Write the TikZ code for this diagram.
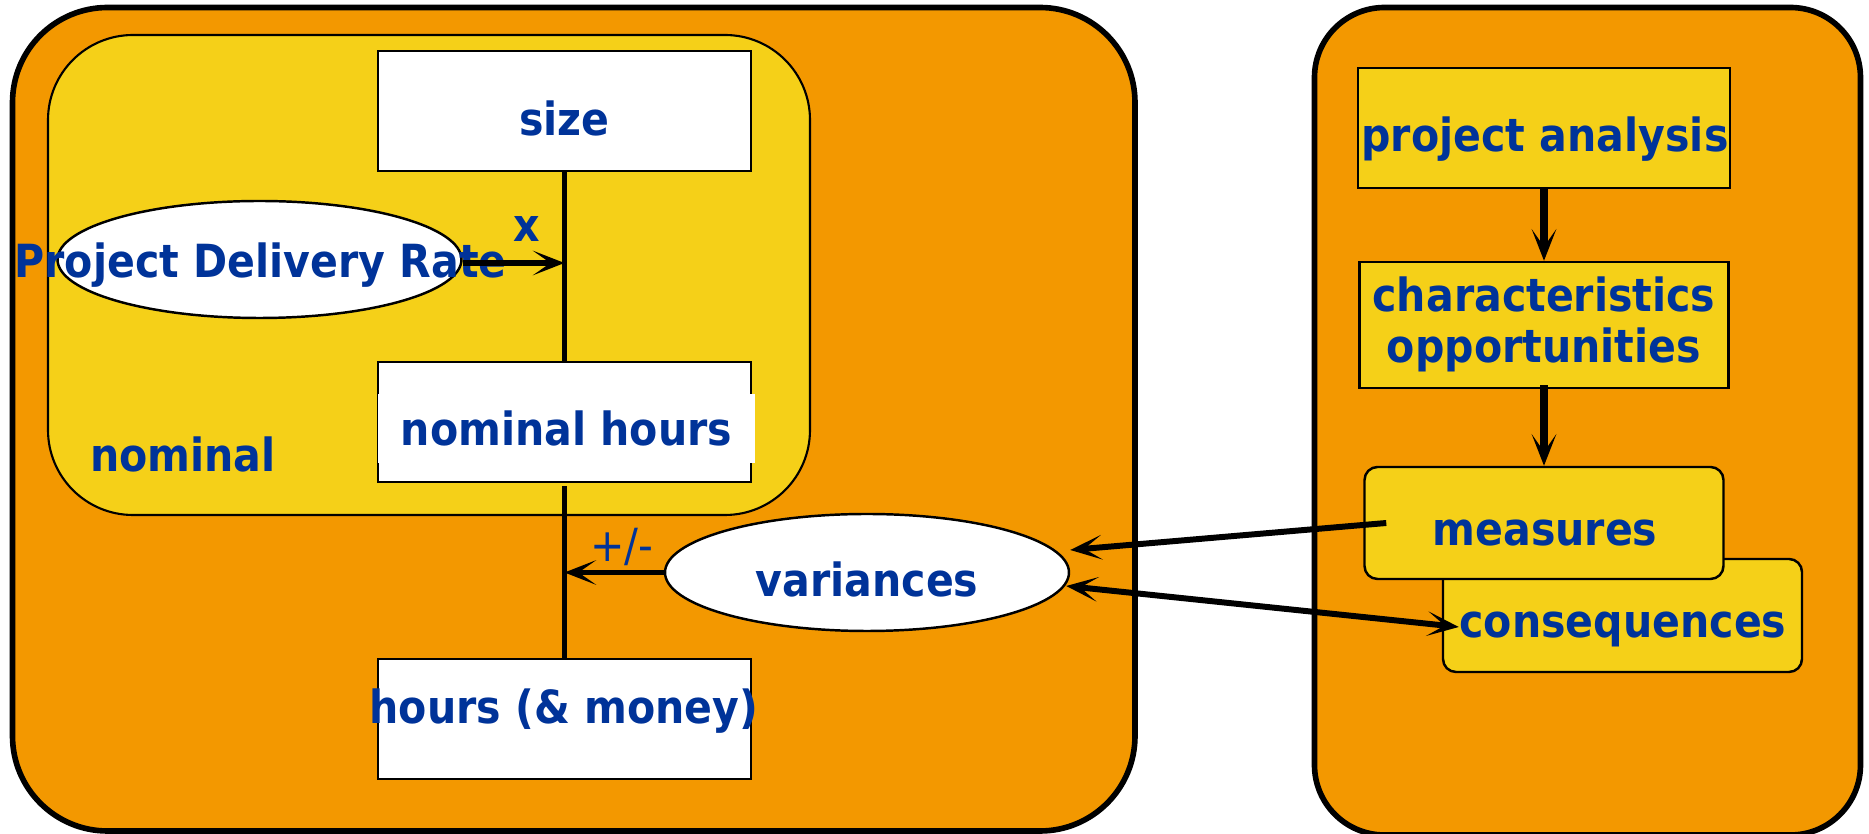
\documentclass[tikz,border=0pt]{standalone}
\usepackage{fontspec}
\newfontfamily\diafont[FakeStretch=0.9]{DejaVu Sans}
\usetikzlibrary{arrows.meta,shapes.geometric}

\definecolor{frameorange}{RGB}{243,152,0}
\definecolor{boxyellow}{RGB}{245,208,24}
\definecolor{txtblue}{RGB}{0,51,153}

\tikzset{
  txt/.style={font=\diafont\bfseries\fontsize{13pt}{14.5pt}\selectfont, text=txtblue, inner sep=0pt},
  txtreg/.style={font=\diafont\fontsize{13pt}{14.5pt}\selectfont, text=txtblue, inner sep=0pt},
  wbox/.style={draw, line width=0.7pt, fill=white, minimum width=3.73cm, minimum height=1.2cm, inner sep=0pt},
  ybox/.style={draw, line width=0.7pt, fill=boxyellow, inner sep=0pt},
  oval/.style={ellipse, draw, line width=0.7pt, fill=white, minimum width=4.04cm, minimum height=1.17cm, inner sep=0pt},
  link/.style={line width=1.7pt},
  flow/.style={line width=2pt}
}

\begin{document}
\begin{tikzpicture}[>={Stealth[length=9pt,width=7pt,inset=5pt]}]
\useasboundingbox (0,0) rectangle (18.69,8.34);

% frames
\draw[fill=frameorange, line width=1.6pt, rounded corners=0.95cm] (0.125,0.03) rectangle (11.35,8.265);
\draw[fill=frameorange, line width=1.6pt, rounded corners=0.7cm] (13.145,-0.01) rectangle (18.605,8.265);
\draw[fill=boxyellow, line width=0.6pt, rounded corners=0.85cm] (0.48,3.19) rectangle (8.10,7.99);

% boxes
\node[wbox] (size) at (5.645,7.23) {};
\node[wbox] (nomrect) at (5.645,4.12) {};
\node[wbox] (hours) at (5.645,1.15) {};
\node[oval] (pdr) at (2.595,5.745) {};
\node[oval] (var) at (8.67,2.615) {};
\node[ybox, minimum width=3.72cm, minimum height=1.2cm] (pa) at (15.44,7.06) {};
\node[ybox, minimum width=3.69cm, minimum height=1.26cm] (char) at (15.44,5.09) {};
\node[ybox, rounded corners=0.13cm, minimum width=3.59cm, minimum height=1.13cm] (cons) at (16.225,2.185) {};
\node[ybox, rounded corners=0.13cm, minimum width=3.59cm, minimum height=1.12cm] (meas) at (15.44,3.11) {};

% labels
\node[txt, anchor=base] (sizet) at (5.645,6.98) {size};
\node[txt, anchor=base] (pdrt) at (2.605,5.56) {Project Delivery Rate};
\node[txt, anchor=base] (xt) at (5.27,5.92) {x};
\node[txt, fill=white, minimum width=3.77cm, minimum height=0.69cm] (nomt) at (5.665,4.055) {nominal hours};
\node[txt, anchor=base] (nomlab) at (1.83,3.62) {nominal};
\node[txtreg, anchor=base] (pm) at (6.22,2.72) {+/-};
\node[txt, anchor=base] (vart) at (8.67,2.37) {variances};
\node[txt, anchor=base] (hourst) at (5.64,1.10) {hours (\& money)};
\node[txt, anchor=base] (pat) at (15.45,6.82) {project analysis};
\node[txt, align=center] (chart) at (15.44,5.10) {characteristics\\opportunities};
\node[txt, anchor=base] (meast) at (15.45,2.88) {measures};
\node[txt, anchor=base] (const) at (16.23,1.96) {consequences};

% connectors
\draw[link] (size.south) -- (nomrect.north);
\draw[link] ([yshift=-0.03cm]nomrect.south) -- (hours.north);
\draw[link,->] ([yshift=-0.035cm]pdr.east) -- ([yshift=-0.035cm]pdr.east -| size.south);
\draw[link,->] (var.west) -- (var.west -| hours.north);
\draw[flow,->] (pa.south) -- (char.north);
\draw[flow,->] ([yshift=0.04cm]char.south) -- (meas.north);
\draw[link,->] ([xshift=0.23cm]meas.west) -- ([yshift=0.225cm]var.east);
\draw[link,<->] ([xshift=-0.04cm,yshift=-0.135cm]var.east) -- ([xshift=0.17cm,yshift=-0.115cm]cons.west);

\end{tikzpicture}
\end{document}
